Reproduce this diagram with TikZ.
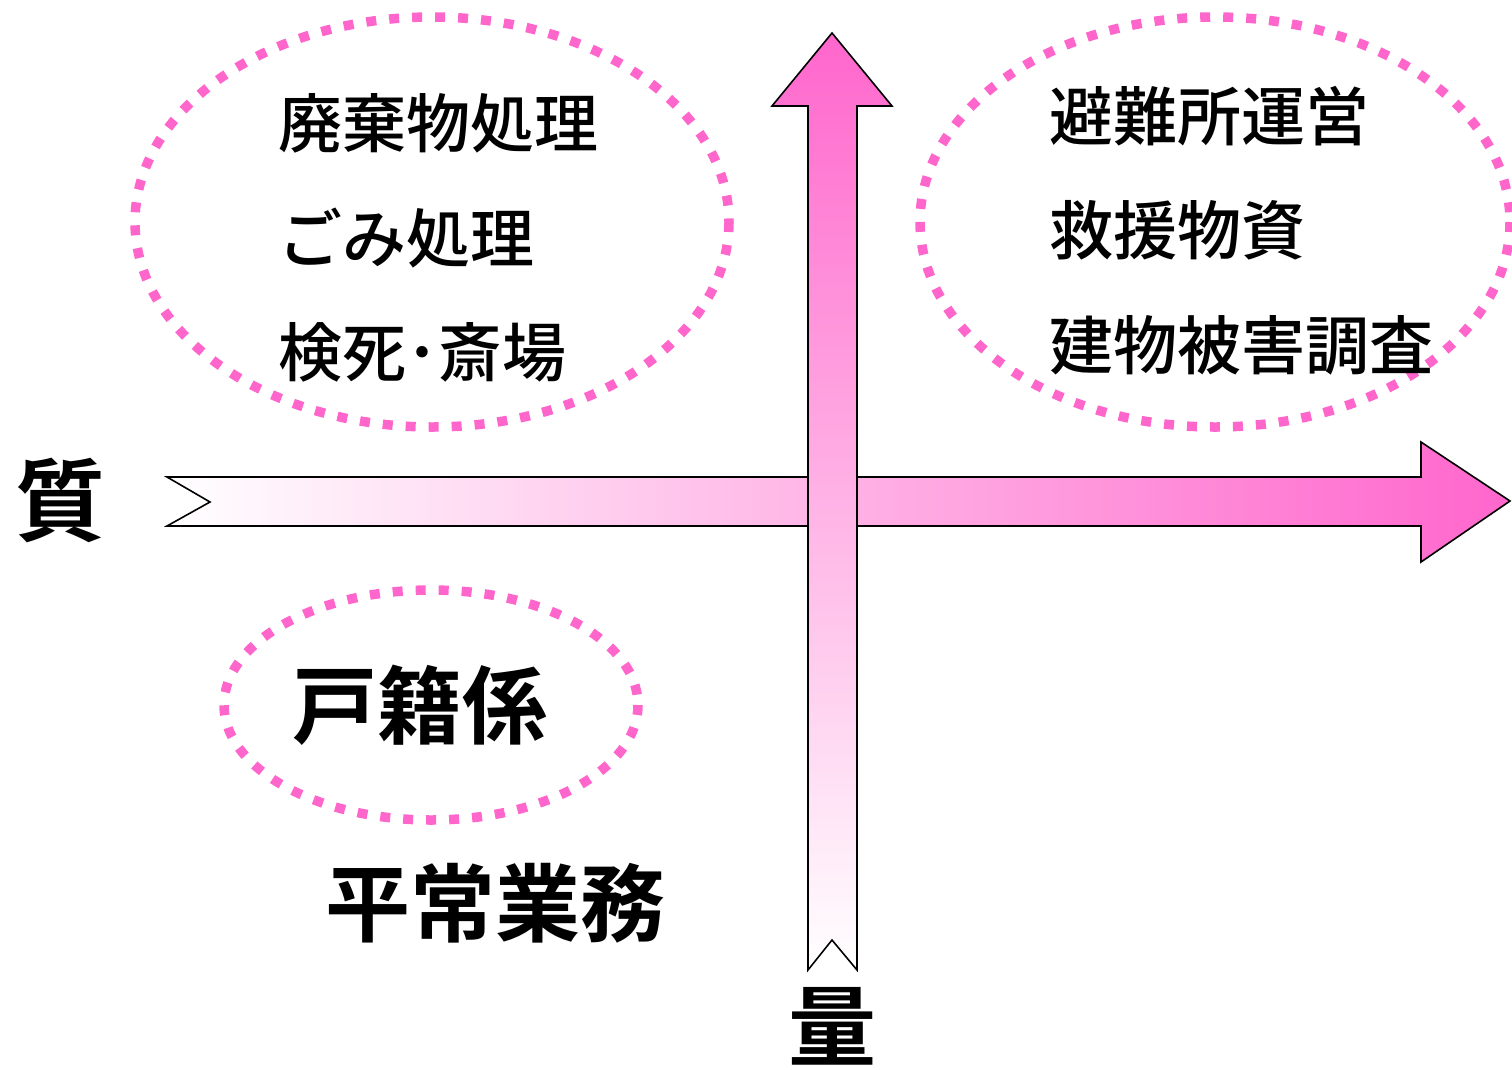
\documentclass[tikz,border=0pt]{standalone}
\usepackage{fontspec}
\newfontfamily\jp{Noto Sans CJK JP Medium}
\newfontfamily\jpb{Noto Sans CJK JP Bold}
\definecolor{pinkA}{HTML}{FF66CC}
\begin{document}
\begin{tikzpicture}[x=1pt,y=-1pt,
  arrowline/.style={draw=black,line width=1.6pt,line join=miter},
  dotring/.style={draw=pinkA,line width=9.5pt,dash pattern=on 10pt off 13pt},
  item/.style={anchor=west,inner sep=0pt,font=\jp\fontsize{64}{64}\selectfont},
  big/.style={inner sep=0pt,font=\jpb\fontsize{#1}{#1}\selectfont}]
\useasboundingbox (0,0) rectangle (1512,1069);
% horizontal arrow
\shade[left color=white,right color=pinkA]
  (167,477) -- (1421,477) -- (1421,442) -- (1510,501) -- (1421,562) -- (1421,526) -- (167,526) -- (210,502) -- cycle;
\draw[arrowline]
  (167,477) -- (1421,477) -- (1421,442) -- (1510,501) -- (1421,562) -- (1421,526) -- (167,526) -- (210,502) -- cycle;
% vertical arrow
\shade[top color=pinkA,bottom color=white]
  (832,33) -- (892,106) -- (857,106) -- (857,970) -- (832,940) -- (808,970) -- (808,106) -- (772,106) -- cycle;
\draw[arrowline]
  (832,33) -- (892,106) -- (857,106) -- (857,970) -- (832,940) -- (808,970) -- (808,106) -- (772,106) -- cycle;
% dotted ellipses
\draw[dotring] (432,222) ellipse [x radius=297,y radius=205];
\draw[dotring] (1215,222) ellipse [x radius=295,y radius=205];
\draw[dotring] (431,705) ellipse [x radius=207,y radius=115];
% texts
\node[item] (a1) at (278,123) {廃棄物処理};
\node[item] (a2) at (278,238) {ごみ処理};
\node[item] (a3) at (278,352) {検死･斎場};
\node[item] (b1) at (1049,116) {避難所運営};
\node[item] (b2) at (1049,230) {救援物資};
\node[item] (b3) at (1049,345) {建物被害調査};
\node[big=85,anchor=west] (c1) at (292,705) {戸籍係};
\node[big=85,anchor=west] (d1) at (325,903) {平常業務};
\node[big=90] (q) at (60,500) {質};
\node[big=88] (r) at (832,1026) {量};
\end{tikzpicture}
\end{document}
